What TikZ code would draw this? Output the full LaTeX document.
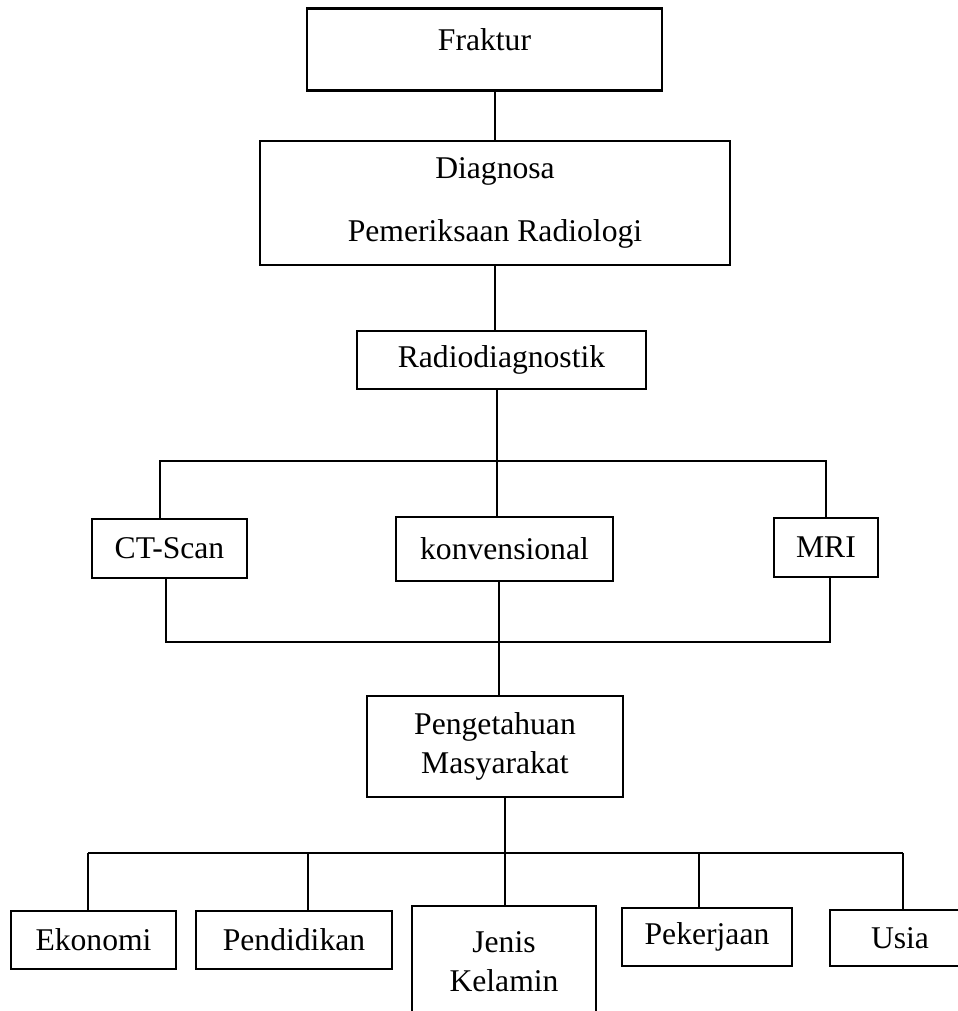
\documentclass[tikz,border=0pt]{standalone}
\usepackage{fontspec}
\setmainfont{Liberation Serif}

\begin{document}
\begin{tikzpicture}[x=0.2mm,y=-0.2mm,
    box/.style={draw,line width=1.5pt,rectangle,inner sep=0pt,align=center,
      font=\fontsize{18}{22}\selectfont},
    link/.style={line width=1.5pt}]
  \useasboundingbox (0,0) rectangle (958,1011);

  % Top chain
  \node[box,anchor=north,minimum width=71mm,text height=8.4mm,text depth=8mm] (fraktur) at (484.5,7) {Fraktur};
  \node[box,minimum width=94mm,minimum height=24.8mm] (diag) at (495,203) {Diagnosa\\[14pt]Pemeriksaan Radiologi};
  \node[box,minimum width=57.8mm,minimum height=11.6mm] (radio) at (501.5,360) {Radiodiagnostik};
  \draw[link] (diag.north) -- (diag.north |- fraktur.south);
  \draw[link] (diag.south) -- (diag.south |- radio.north);

  % Methods
  \node[box,minimum width=31mm,minimum height=11.8mm] (ct) at (169.5,548.5) {CT-Scan};
  \node[box,minimum width=43.4mm,minimum height=12.8mm] (konv) at (504.5,549) {konvensional};
  \node[box,minimum width=20.8mm,minimum height=11.8mm] (mri) at (826,547.5) {MRI};
  \coordinate (busA) at (497,461);
  \coordinate (busAl) at (160,461);
  \coordinate (busAr) at (826,461);
  \draw[link] (busA |- radio.south) -- (busA |- konv.north);
  \draw[link] (busAl |- ct.north) -- (busAl) -- (busAr) -- (busAr |- mri.north);
  \coordinate (busB) at (499,642);
  \coordinate (busBl) at (166,642);
  \coordinate (busBr) at (830,642);
  \draw[link] (busBl |- ct.south) -- (busBl) -- (busBr) -- (busBr |- mri.south);

  % Knowledge
  \node[box,minimum width=51.2mm,minimum height=20.2mm] (peng) at (495,746.5) {Pengetahuan\\Masyarakat};
  \draw[link] (busB |- konv.south) -- (busB |- peng.north);

  % Factors
  \node[box,minimum width=33mm,minimum height=11.6mm] (eko) at (93.5,940) {Ekonomi};
  \node[box,minimum width=39.2mm,minimum height=11.6mm] (pend) at (294,940) {Pendidikan};
  \node[box,minimum width=36.8mm,minimum height=22.4mm] (jenis) at (504,962) {Jenis\\Kelamin};
  \node[box,minimum width=34mm,minimum height=11.6mm] (kerja) at (707,937) {Pekerjaan};
  \node[box,minimum width=28mm,minimum height=11.2mm] (usia) at (900,938) {Usia};
  \coordinate (busC) at (505,853);
  \draw[link] (busC |- peng.south) -- (busC);
  \draw[link] (88,853) -- (903,853);
  \foreach \n/\x in {eko/88,pend/308,jenis/505,kerja/699,usia/903}{
    \coordinate (t\n) at (\x,853);
    \draw[link] (t\n) -- (t\n |- \n.north);
  }
\end{tikzpicture}
\end{document}
